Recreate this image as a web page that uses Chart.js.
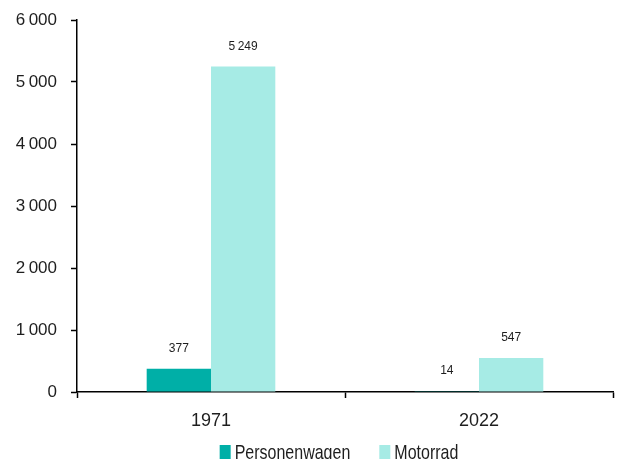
<!DOCTYPE html>
<html>
<head>
<meta charset="utf-8">
<script src="https://cdn.jsdelivr.net/npm/chart.js@4"></script>
<style>
  html, body { margin: 0; padding: 0; background: #ffffff; }
  #wrap { width: 618px; height: 459px; }
</style>
</head>
<body>
<div id="wrap"><canvas id="c" width="618" height="459"></canvas></div>
<script>
// Jahre auf der Kategorieachse
const categories = ['1971', '2022'];
// Serien
const seriesNames = ['Personenwagen', 'Motorrad'];
const personenwagen = [377, 14];
const motorrad = [5249, 547];
// Y-Achse
const yTicks = [0, 1000, 2000, 3000, 4000, 5000, 6000];

const colors = ['#00AFA7', '#A6EBE5'];
const textColor = '#1e1e1e';

// Tausendertrennzeichen: schmales Leerzeichen
function fmt(v) {
  return String(v).replace(/\B(?=(\d{3})+(?!\d))/g, '\u2009');
}

// Werte über den Balken
const valueLabels = {
  id: 'valueLabels',
  afterDatasetsDraw(chart) {
    const ctx = chart.ctx;
    ctx.save();
    ctx.font = '12px "Liberation Sans", Arial, sans-serif';
    ctx.fillStyle = textColor;
    ctx.textAlign = 'center';
    ctx.textBaseline = 'middle';
    chart.data.datasets.forEach((ds, i) => {
      const meta = chart.getDatasetMeta(i);
      meta.data.forEach((bar, j) => {
        ctx.fillText(fmt(ds.data[j]), bar.x, bar.y - 20);
      });
    });
    ctx.restore();
  }
};

// Legende unten, Quadrat direkt vor dem Text, Schrift schmal und hoch
const bottomLegend = {
  id: 'bottomLegend',
  afterDraw(chart) {
    const ctx = chart.ctx;
    const area = chart.chartArea;
    ctx.save();
    ctx.font = '16px "Liberation Sans", Arial, sans-serif';
    const stretch = 1.3;
    const boxW = 11, boxH = 15, gap = 4, spacing = 29;
    const items = chart.data.datasets.map(ds => ({
      text: ds.label, color: ds.backgroundColor, w: ctx.measureText(ds.label).width
    }));
    const total = items.reduce((s, it) => s + boxW + gap + it.w, 0) + spacing * (items.length - 1);
    let x = (area.left + area.right) / 2 - 6 - total / 2;
    const baseline = 459;
    items.forEach(it => {
      ctx.fillStyle = it.color;
      ctx.fillRect(x, baseline - 14, boxW, boxH);
      x += boxW + gap;
      ctx.save();
      ctx.translate(x, baseline);
      ctx.scale(1, stretch);
      ctx.fillStyle = textColor;
      ctx.textBaseline = 'alphabetic';
      ctx.fillText(it.text, 0, 0);
      ctx.restore();
      x += it.w + spacing;
    });
    ctx.restore();
  }
};

new Chart(document.getElementById('c'), {
  type: 'bar',
  data: {
    labels: categories,
    datasets: [
      { label: seriesNames[0], data: personenwagen, backgroundColor: colors[0] },
      { label: seriesNames[1], data: motorrad, backgroundColor: colors[1] }
    ]
  },
  options: {
    responsive: false,
    animation: false,
    devicePixelRatio: 1,
    layout: { padding: { top: 20, right: 5, bottom: 0, left: 0 } },
    plugins: {
      legend: { display: false },
      tooltip: { enabled: false }
    },
    datasets: {
      bar: { categoryPercentage: 0.48, barPercentage: 1.0, borderWidth: 0 }
    },
    scales: {
      x: {
        offset: true,
        grid: {
          offset: true,
          drawOnChartArea: false,
          drawTicks: true,
          tickLength: 6,
          tickColor: '#000',
          tickWidth: 1.5
        },
        border: { display: true, color: '#000', width: 1.5 },
        ticks: {
          color: textColor,
          font: { family: '"Liberation Sans", Arial, sans-serif', size: 18 },
          padding: 12,
          maxRotation: 0
        },
        afterFit(scale) {
          scale.height = 67;
          scale.paddingLeft = 0;
          scale.paddingRight = 0;
        }
      },
      y: {
        min: 0,
        max: 6000,
        afterBuildTicks(scale) { scale.ticks = yTicks.map(v => ({ value: v })); },
        grid: {
          drawOnChartArea: false,
          drawTicks: true,
          tickLength: 6,
          tickColor: '#000',
          tickWidth: 1.5
        },
        border: { display: true, color: '#000', width: 1.5 },
        ticks: {
          color: textColor,
          font: { family: '"Liberation Sans", Arial, sans-serif', size: 17 },
          padding: 14,
          callback: v => fmt(v)
        },
        afterFit(scale) {
          scale.width = 77;
          scale.paddingTop = 0;
          scale.paddingBottom = 0;
        }
      }
    }
  },
  plugins: [valueLabels, bottomLegend]
});
</script>
</body>
</html>
